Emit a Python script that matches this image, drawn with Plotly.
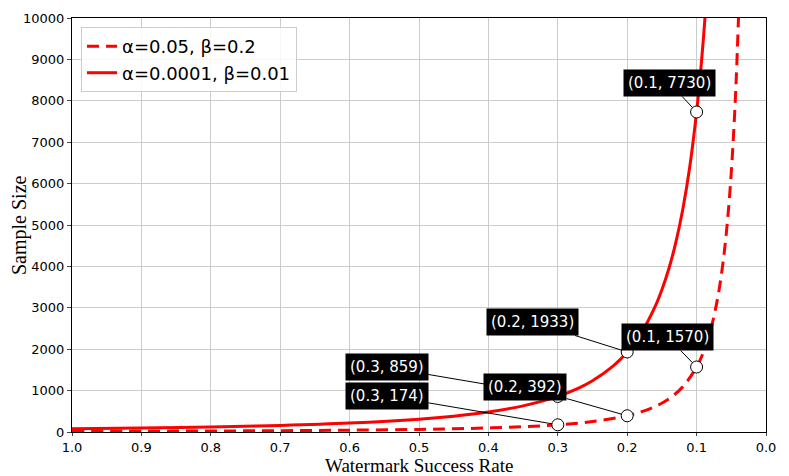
import plotly.graph_objects as go

# Curve readings (watermark success rate -> sample size)
rate_a = [1.0, 0.9, 0.8, 0.7, 0.6, 0.5, 0.45, 0.4, 0.35, 0.3, 0.25, 0.2, 0.18, 0.16, 0.14,
          0.12, 0.1, 0.09, 0.08, 0.07, 0.065, 0.06, 0.055, 0.05, 0.045, 0.042, 0.039]
size_a = [16, 19, 25, 32, 44, 63, 78, 98, 128, 174, 251, 392, 485, 613, 801,
          1090, 1570, 1938, 2453, 3204, 3716, 4361, 5190, 6280, 7753, 8900, 10322]

rate_b = [1.0, 0.9, 0.8, 0.7, 0.6, 0.5, 0.45, 0.4, 0.35, 0.3, 0.27, 0.25, 0.22, 0.2, 0.18,
          0.16, 0.15, 0.14, 0.13, 0.12, 0.11, 0.1, 0.095, 0.09, 0.087]
size_b = [77, 95, 121, 158, 215, 309, 382, 483, 631, 859, 1060, 1237, 1597, 1933, 2386,
          3020, 3436, 3944, 4574, 5368, 6388, 7730, 8565, 9543, 10213]

label_a = "α=0.05, β=0.2"
label_b = "α=0.0001, β=0.01"

# Highlighted points
pt_x = [0.1, 0.2, 0.1, 0.3, 0.2, 0.3]
pt_y = [7730, 1933, 1570, 859, 392, 174]
pt_ax = [-27, -95, -29, -171, -102, -171]
pt_ay = [-29, -30, -30, -29, -29, -29]

x_ticks = [1.0, 0.9, 0.8, 0.7, 0.6, 0.5, 0.4, 0.3, 0.2, 0.1, 0.0]
y_ticks = [0, 1000, 2000, 3000, 4000, 5000, 6000, 7000, 8000, 9000, 10000]

fig = go.Figure()
fig.add_trace(go.Scatter(x=rate_a, y=size_a, mode="lines", name=label_a,
                         line=dict(color="#ff0000", width=3, dash="12px,7px", shape="spline")))
fig.add_trace(go.Scatter(x=rate_b, y=size_b, mode="lines", name=label_b,
                         line=dict(color="#ff0000", width=3, shape="spline")))
fig.add_trace(go.Scatter(x=pt_x, y=pt_y, mode="markers", showlegend=False,
                         marker=dict(size=12, color="white", line=dict(color="black", width=1))))

for x, y, ax, ay in zip(pt_x, pt_y, pt_ax, pt_ay):
    fig.add_annotation(x=x, y=y, ax=ax, ay=ay, text=f"({x}, {y})",
                       showarrow=True, arrowhead=0, arrowwidth=1, arrowcolor="black",
                       bgcolor="black", borderpad=4, standoff=6,
                       font=dict(color="white", size=15, family="DejaVu Sans"))

# Axis titles placed as annotations for precise positioning
fig.add_annotation(xref="paper", yref="paper", x=0.5, y=0, yanchor="middle",
                   yshift=-33, showarrow=False, text="Watermark Success Rate",
                   font=dict(family="Liberation Serif", size=19, color="black"))
fig.add_annotation(xref="paper", yref="paper", x=0, y=0.5, xanchor="center",
                   xshift=-53, showarrow=False, text="Sample Size", textangle=-90,
                   font=dict(family="Liberation Serif", size=20, color="black"))

fig.update_layout(
    width=789, height=476,
    margin=dict(l=72, r=23, t=18, b=44),
    plot_bgcolor="white", paper_bgcolor="white",
    font=dict(family="DejaVu Sans", color="black", size=13),
    legend=dict(x=0.013, y=0.978, xanchor="left", yanchor="top",
                bgcolor="rgba(255,255,255,0.85)", bordercolor="#cccccc", borderwidth=1,
                font=dict(size=18, family="DejaVu Sans")),
    showlegend=True,
)
fig.update_xaxes(range=[1.0, 0.0], tickvals=x_ticks, ticktext=[f"{v:.1f}" for v in x_ticks],
                 showgrid=True, gridcolor="#cccccc", gridwidth=1,
                 showline=True, linecolor="black", linewidth=1, mirror=True,
                 ticks="outside", ticklen=3, zeroline=False, automargin=False)
fig.update_yaxes(range=[0, 10000], tickvals=y_ticks, ticktext=[str(v) for v in y_ticks],
                 showgrid=True, gridcolor="#cccccc", gridwidth=1,
                 showline=True, linecolor="black", linewidth=1, mirror=True,
                 ticks="outside", ticklen=4, zeroline=False, automargin=False)

fig.write_html("out.html", config={"displayModeBar": False},
               post_script="document.body.style.margin='0';document.body.style.overflow='hidden';")
